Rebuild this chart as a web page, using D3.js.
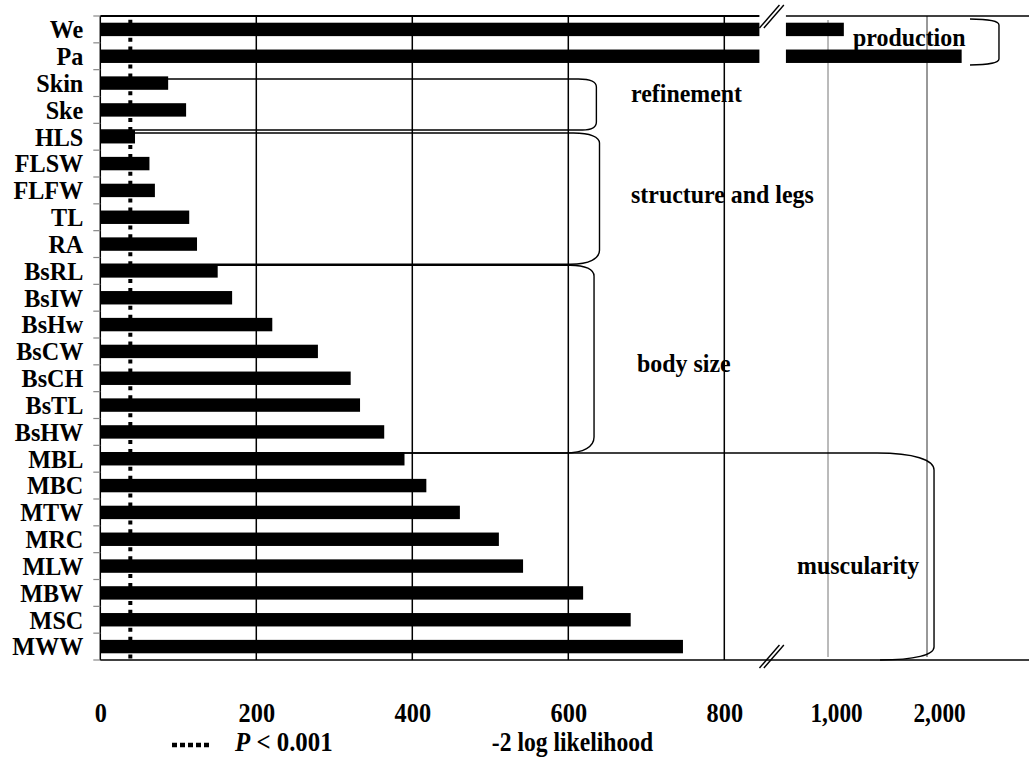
<!DOCTYPE html>
<html>
<head>
<meta charset="utf-8">
<script src="https://cdn.jsdelivr.net/npm/d3@7"></script>
<style>
  html, body { margin: 0; padding: 0; background: #fff; }
  svg { display: block; }
  text { font-family: "Liberation Serif", "Times New Roman", serif; font-weight: bold; fill: #000; }
</style>
</head>
<body>
<svg id="chart" width="1029" height="767"></svg>
<script>
// ---------------- data ----------------
const categories = ["We","Pa","Skin","Ske","HLS","FLSW","FLFW","TL","RA","BsRL","BsIW","BsHw","BsCW","BsCH","BsTL","BsHW","MBL","MBC","MTW","MRC","MLW","MBW","MSC","MWW"];
const values = [1160, 2350, 87, 110, 44.5, 63, 70, 114, 124, 150.5, 169, 220.5, 279, 321, 333, 364, 390, 418, 461, 511, 542, 619, 680, 747];
const xTickValues = [0, 200, 400, 600, 800];
const xTickValuesHigh = [1000, 2000];
const threshold = 38.5;               // P < 0.001 critical value
const groupNames = ["production", "refinement", "structure and legs", "body size", "muscularity"];
const groupFirst = ["We", "Skin", "HLS", "BsRL", "MBL"];
const groupLast  = ["Pa", "Ske", "RA", "BsHW", "MWW"];
const legendLabel = "P < 0.001";
const xTitle = "-2 log likelihood";

// ---------------- layout ----------------
(function () {
const svg = d3.select("#chart");
const W = 1029, H = 767;
const pTop = 16, pBottom = 660, pLeft = 100.3;
const FONT = "'Liberation Serif', 'Times New Roman', serif";

// horizontally condense text around its anchor point
function squeeze(sel, sx) {
  sel.each(function () {
    const t = d3.select(this);
    const tx = +(t.attr("x") || 0), ty = +(t.attr("y") || 0);
    t.attr("x", 0).attr("y", 0)
     .attr("transform", `translate(${tx},${ty}) scale(${sx},1)`);
  });
}

const x = d3.scaleLinear().domain([0, 800]).range([pLeft, 724.3]);
const breakAt = 845;      // value where the low segment stops
const x2 = d3.scaleLinear().domain([1000, 2000]).range([828, 927]);
const resumeAt = 575;     // value where the high segment resumes

const y = d3.scaleBand().domain(categories).range([pTop, pBottom]).paddingInner(0.5).paddingOuter(0.25);
const step = y.step();

svg.append("rect").attr("width", W).attr("height", H).attr("fill", "#fff");

// gridlines (low scale)
svg.append("g").selectAll("line").data(xTickValues.filter(d => d > 0)).join("line")
  .attr("x1", d => x(d)).attr("x2", d => x(d))
  .attr("y1", pTop).attr("y2", pBottom)
  .attr("stroke", "#000").attr("stroke-width", 1.5);

// gridlines (high scale)
svg.append("g").selectAll("line").data(xTickValuesHigh).join("line")
  .attr("x1", d => x2(d)).attr("x2", d => x2(d))
  .attr("y1", (d, i) => i === 0 ? pTop + 4 : pTop).attr("y2", pBottom - 3)
  .attr("stroke", (d, i) => i === 0 ? "#777" : "#333").attr("stroke-width", 1);

// top border (broken)
svg.append("line").attr("x1", pLeft).attr("x2", x(breakAt)).attr("y1", pTop).attr("y2", pTop)
  .attr("stroke", "#000").attr("stroke-width", 2);
svg.append("line").attr("x1", x2(resumeAt)).attr("x2", W).attr("y1", pTop).attr("y2", pTop)
  .attr("stroke", "#000").attr("stroke-width", 1.3);

// bars
const barG = svg.append("g");
categories.forEach((c, i) => {
  const v = values[i];
  if (v <= breakAt) {
    barG.append("rect").attr("x", x(0)).attr("y", y(c))
      .attr("width", x(v) - x(0)).attr("height", y.bandwidth()).attr("fill", "#000");
  } else {
    barG.append("rect").attr("x", x(0)).attr("y", y(c))
      .attr("width", x(breakAt) - x(0)).attr("height", y.bandwidth()).attr("fill", "#000");
    barG.append("rect").attr("x", x2(resumeAt)).attr("y", y(c))
      .attr("width", x2(v) - x2(resumeAt)).attr("height", y.bandwidth()).attr("fill", "#000");
  }
});

// threshold dotted line
svg.append("line").attr("x1", x(threshold)).attr("x2", x(threshold))
  .attr("y1", pTop).attr("y2", pBottom)
  .attr("stroke", "#000").attr("stroke-width", 4)
  .attr("stroke-dasharray", "4,4.94").attr("stroke-dashoffset", 5.16);

// y axis line + boundary ticks
svg.append("line").attr("x1", pLeft).attr("x2", pLeft).attr("y1", pTop).attr("y2", pBottom)
  .attr("stroke", "#000").attr("stroke-width", 1.5);
svg.append("g").selectAll("line").data(d3.range(categories.length + 1)).join("line")
  .attr("x1", pLeft - 7).attr("x2", pLeft)
  .attr("y1", k => pTop + k * step).attr("y2", k => pTop + k * step)
  .attr("stroke", "#888").attr("stroke-width", 1.2);

// category labels via axis
const yAxis = svg.append("g").attr("transform", `translate(${pLeft},0)`)
  .call(d3.axisLeft(y).tickSize(0).tickPadding(17));
yAxis.select(".domain").remove();
yAxis.selectAll("text")
  .attr("font-family", FONT).attr("font-size", 26).attr("font-weight", "bold")
  .attr("dy", "0.34em");
squeeze(yAxis.selectAll("text"), 0.93);

// bottom axis line
svg.append("line").attr("x1", pLeft).attr("x2", W).attr("y1", pBottom).attr("y2", pBottom)
  .attr("stroke", "#000").attr("stroke-width", 1.5);

// x tick labels
const xAxis = svg.append("g").attr("transform", `translate(0,${pBottom})`)
  .call(d3.axisBottom(x).tickValues(xTickValues).tickSize(0).tickFormat(d3.format(",")));
xAxis.select(".domain").remove();
xAxis.selectAll("text").attr("y", 62).attr("dy", 0)
  .attr("font-family", FONT).attr("font-size", 27).attr("font-weight", "bold");
squeeze(xAxis.selectAll("text"), 0.9);

const xAxis2 = svg.append("g").attr("transform", `translate(0,${pBottom})`)
  .call(d3.axisBottom(x2).tickValues(xTickValuesHigh).tickSize(0).tickFormat(d3.format(",")));
xAxis2.select(".domain").remove();
xAxis2.selectAll("text").attr("y", 62).attr("dy", 0)
  .attr("x", (d, i) => i === 0 ? 8 : 12)
  .attr("font-family", FONT).attr("font-size", 27).attr("font-weight", "bold");
squeeze(xAxis2.selectAll("text"), 0.86);

// axis break marks
function breakMark(cx, cy) {
  [-2.2, 2.2].forEach(off => {
    svg.append("line")
      .attr("x1", cx - 10 + off).attr("y1", cy + 12)
      .attr("x2", cx + 10 + off).attr("y2", cy - 11)
      .attr("stroke", "#000").attr("stroke-width", 1.4);
  });
}
const breakX = (x(breakAt) + x2(resumeAt)) / 2;
breakMark(breakX - 1, pTop);
breakMark(breakX - 1, pBottom - 4);

// group brackets
function bracketPath(xl, xr, yt, yb, dx, dy, dxb, dyb, xlb) {
  return `M${xl},${yt} H${xr - dx} C${xr - dx * 0.35},${yt} ${xr},${yt + dy * 0.4} ${xr},${yt + dy}` +
         ` V${yb - dyb} C${xr},${yb - dyb * 0.4} ${xr - dxb * 0.35},${yb} ${xr - dxb},${yb} H${xlb}`;
}
const bw = y.bandwidth();
const brackets = [
  { xl: x2(2727) - 29, xr: x2(2727), yt: y("We") - 3.7, yb: y("Pa") + bw + 2, dx: 29, dy: 6, dxb: 29, dyb: 6, xlb: x2(2727) - 29 },
  { xl: pLeft, xr: x(636), yt: y("Skin") + 2.6, yb: y("HLS"), dx: 18, dy: 8, dxb: 14, dyb: 8, xlb: pLeft },
  { xl: pLeft, xr: x(640), yt: y("HLS") + 3, yb: y("BsRL"), dx: 26, dy: 10, dxb: 29, dyb: 14, xlb: pLeft },
  { xl: pLeft, xr: x(633), yt: y("BsRL") + 1, yb: y("MBL") + 1, dx: 24, dy: 11, dxb: 29, dyb: 16, xlb: pLeft },
  { xl: pLeft, xr: x2(2071), yt: y("MBL") + 1, yb: pBottom, dx: 57, dy: 17, dxb: 54, dyb: 13, xlb: x2(2071) - 54 }
];
svg.append("g").selectAll("path").data(brackets).join("path")
  .attr("d", b => bracketPath(b.xl, b.xr, b.yt, b.yb, b.dx, b.dy, b.dxb, b.dyb, b.xlb))
  .attr("fill", "none").attr("stroke", "#000").attr("stroke-width", 1.4);

// group labels
const labelPos = [
  { x: 853, y: 46 },
  { x: 631, y: 102 },
  { x: 631, y: 203 },
  { x: 637, y: 372 },
  { x: 797, y: 574 }
];
const gl = svg.append("g").selectAll("text").data(groupNames).join("text")
  .attr("x", (d, i) => labelPos[i].x).attr("y", (d, i) => labelPos[i].y)
  .attr("font-size", 26)
  .text(d => d);
squeeze(gl, 0.92);

// legend
svg.append("line").attr("x1", 172).attr("x2", 212).attr("y1", 745).attr("y2", 745)
  .attr("stroke", "#000").attr("stroke-width", 4.5).attr("stroke-dasharray", "5,3");
const leg = svg.append("text").attr("x", 235).attr("y", 751).attr("font-size", 27);
leg.append("tspan").attr("font-style", "italic").text(legendLabel.slice(0, 1));
leg.append("tspan").text(legendLabel.slice(1));
squeeze(leg, 0.92);

const tt = svg.append("text").attr("x", 572.5).attr("y", 751).attr("text-anchor", "middle")
  .attr("font-size", 27).text(xTitle);
squeeze(tt, 0.875);
})();
</script>
</body>
</html>
